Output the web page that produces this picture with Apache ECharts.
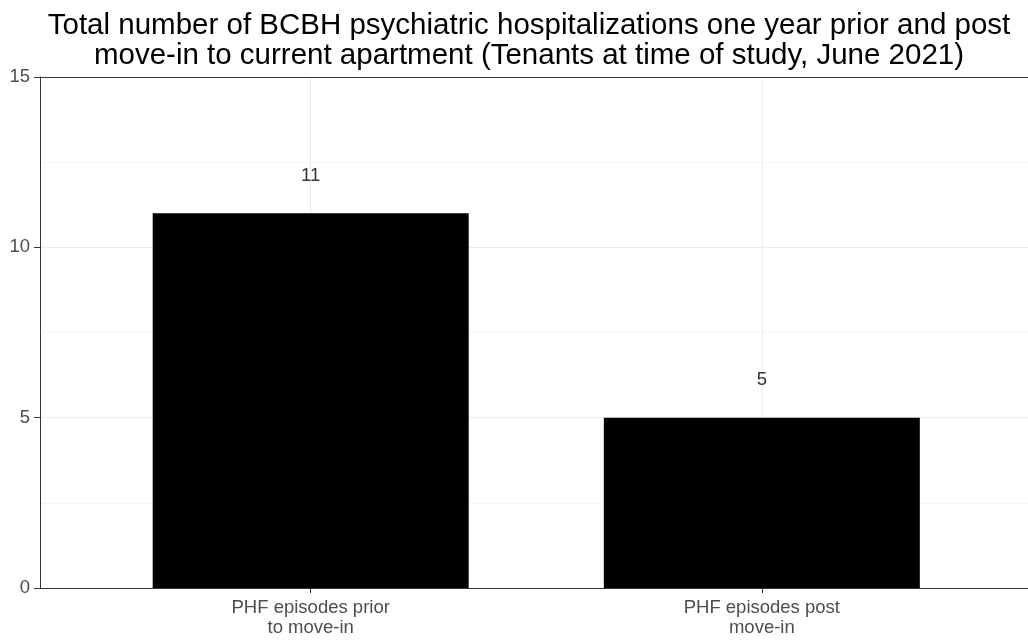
<!DOCTYPE html>
<html>
<head>
<meta charset="utf-8">
<script src="https://cdn.jsdelivr.net/npm/echarts@6/dist/echarts.min.js"></script>
<style>
  html, body { margin: 0; padding: 0; background: #fff; }
  #chart { width: 1028px; height: 640px; }
</style>
</head>
<body>
<div id="chart"></div>
<script>
// categories and values
var categories = ["PHF episodes prior\nto move-in", "PHF episodes post\nmove-in"];
var positions = [1, 2];
var counts = [11, 5];
var yTicks = [0, 5, 10, 15];

var chart = echarts.init(document.getElementById("chart"));

var labelFont = "Liberation Sans";

var option = {
  backgroundColor: "#fff",
  animation: false,
  title: {
    text: "Total number of BCBH psychiatric hospitalizations one year prior and post\nmove-in to current apartment (Tenants at time of study, June 2021)",
    left: 524,
    textAlign: "center",
    top: 6,
    textStyle: {
      fontFamily: labelFont,
      fontWeight: "normal",
      fontSize: 29.5,
      lineHeight: 30,
      color: "#000"
    }
  },
  grid: {
    left: 40,
    top: 77,
    width: 988,
    height: 511,
    show: false
  },
  xAxis: [
    {
      type: "value",
      min: 0.4,
      max: 2.59,
      axisLine: { show: true, onZero: false, lineStyle: { color: "#333" } },
      axisTick: { show: true, length: 5, customValues: positions, lineStyle: { color: "#333" } },
      axisLabel: {
        customValues: positions,
        formatter: function (v) { return categories[positions.indexOf(v)] || ""; },
        fontFamily: labelFont,
        fontSize: 18.5,
        lineHeight: 20,
        color: "#4d4d4d",
        margin: 10
      },
      splitLine: { show: true, lineStyle: { color: "#ebebeb", width: 1 } }
    },
    {
      // top edge of the panel
      type: "value",
      position: "top",
      min: 0.4,
      max: 2.59,
      axisLine: { show: true, onZero: false, lineStyle: { color: "#333" } },
      axisTick: { show: false },
      axisLabel: { show: false },
      splitLine: { show: false }
    }
  ],
  yAxis: {
    type: "value",
    min: yTicks[0],
    max: yTicks[yTicks.length - 1],
    interval: 5,
    axisLine: { show: true, lineStyle: { color: "#333" } },
    axisTick: { show: true, length: 6, lineStyle: { color: "#333" } },
    axisLabel: {
      fontFamily: labelFont,
      fontSize: 18.5,
      color: "#4d4d4d",
      margin: 10
    },
    splitLine: { show: true, lineStyle: { color: "#ebebeb", width: 1 } },
    minorTick: { show: false, splitNumber: 2 },
    minorSplitLine: { show: true, lineStyle: { color: "#f5f5f5", width: 1 } }
  },
  series: [
    {
      type: "bar",
      data: positions.map(function (p, i) { return [p, counts[i]]; }),
      barWidth: 316,
      itemStyle: { color: "#000" },
      label: {
        show: true,
        position: "top",
        distance: 28,
        formatter: function (p) { return p.value[1]; },
        fontFamily: labelFont,
        fontSize: 18.5,
        color: "#333"
      }
    }
  ]
};

chart.setOption(option);
</script>
</body>
</html>
